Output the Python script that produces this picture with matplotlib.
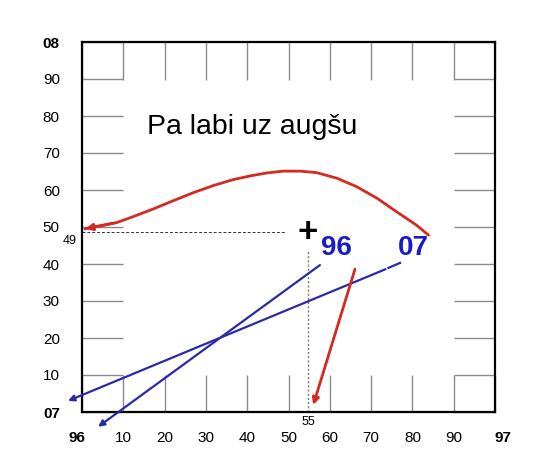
import matplotlib
matplotlib.use("Agg")
import matplotlib.pyplot as plt
from matplotlib.transforms import ScaledTranslation

plt.rcParams['font.family'] = ['Liberation Sans', 'DejaVu Sans']

# ---- data ----
x_ticks = [0, 10, 20, 30, 40, 50, 60, 70, 80, 90, 100]
x_tick_labels = ['96', '10', '20', '30', '40', '50', '60', '70', '80', '90', '97']
y_ticks = [0, 10, 20, 30, 40, 50, 60, 70, 80, 90, 100]
y_tick_labels = ['07', '10', '20', '30', '40', '50', '60', '70', '80', '90', '08']

curve_x = [0.7, 8.4, 12.4, 17.3, 22.1, 27.0, 31.8, 36.6, 40.7, 44.7, 48.7,
           52.8, 56.8, 61.7, 66.5, 71.4, 76.2, 81.0, 83.9]
curve_y = [49.5, 51.2, 52.8, 54.9, 57.1, 59.3, 61.2, 62.8, 63.8, 64.6, 65.1,
           65.1, 64.7, 63.2, 60.9, 57.8, 54.1, 50.5, 47.8]

point_x, point_y = 54.7, 48.6
point_label_x, point_label_y = '55', '49'

blue_a_start = (57.6, 39.7)
blue_a_end = (3.9, -4.0)
blue_b_start = (77.0, 40.3)
blue_b_end = (-3.4, 3.0)
red_arrow_start = (66.1, 38.6)
red_arrow_end = (56.0, 1.9)

title_text = 'Pa labi uz augšu'
label_96 = '96'
label_07 = '07'

red = '#d42a22'
navy = '#2a2aa6'
blue_txt = '#1a1ac8'

# ---- figure ----
fig = plt.figure(figsize=(5.49, 4.57), dpi=100)
ax = fig.add_axes([82/549, 45/457, 413/549, 370/457])
ax.set_xlim(0, 100)
ax.set_ylim(0, 100)

for s in ax.spines.values():
    s.set_linewidth(1.6)
    s.set_color('black')

ax.set_xticks(x_ticks)
ax.set_xticklabels(x_tick_labels)
ax.set_yticks(y_ticks)
ax.set_yticklabels(y_tick_labels)
ax.tick_params(axis='x', direction='in', length=27, width=1.0, color='#8a8a8a',
               top=True, bottom=True, labelsize=11, pad=14)
ax.tick_params(axis='y', direction='in', length=29.5, width=1.0, color='#8a8a8a',
               left=True, right=True, labelsize=11, pad=16)
xl = ax.get_xticklabels()
yl = ax.get_yticklabels()
for lbl in [xl[0], xl[-1], yl[0], yl[-1]]:
    lbl.set_fontweight('bold')
xl[0].set_transform(xl[0].get_transform() + ScaledTranslation(-0.05, 0, fig.dpi_scale_trans))
xl[-1].set_transform(xl[-1].get_transform() + ScaledTranslation(0.08, 0, fig.dpi_scale_trans))

# red curve
ax.plot(curve_x, curve_y, color=red, lw=2.0, clip_on=False,
        solid_capstyle='round', solid_joinstyle='round')
ax.annotate('', xy=(curve_x[0] - 0.5, curve_y[0] - 0.1), xytext=(curve_x[1], curve_y[1]),
            arrowprops=dict(arrowstyle='-|>', color=red, lw=2.0, mutation_scale=10),
            annotation_clip=False)

# guide lines
ax.plot([0, point_x - 5.5], [point_y, point_y], ls=(0, (3, 2)), color='#333333', lw=0.7)
ax.plot([point_x, point_x], [0, point_y - 4.8], ls=(0, (1.5, 1.5)), color='#777777', lw=1.0)
ax.text(point_x, point_y, '+', fontsize=25, fontweight='bold', ha='center', va='center')
ax.text(-3, point_y - 2.5, point_label_y, fontsize=9, ha='center', va='center', clip_on=False)
ax.text(point_x, -2.7, point_label_x, fontsize=9, ha='center', va='center', clip_on=False)

# blue lines
ax.annotate('', xy=blue_a_end, xytext=blue_a_start,
            arrowprops=dict(arrowstyle='-|>', color=navy, lw=1.6, mutation_scale=9,
                            shrinkA=0, shrinkB=0), annotation_clip=False)
ax.annotate('', xy=blue_b_end, xytext=(73.5, 38.6),
            arrowprops=dict(arrowstyle='-|>', color=navy, lw=1.6, mutation_scale=9,
                            shrinkA=0, shrinkB=0), annotation_clip=False)
ax.plot([blue_b_start[0], 74.2], [blue_b_start[1], 38.95], color=navy, lw=1.6)

# red arrow
ax.annotate('', xy=red_arrow_end, xytext=red_arrow_start,
            arrowprops=dict(arrowstyle='-|>', color=red, lw=2.0, mutation_scale=10,
                            shrinkA=0, shrinkB=0), annotation_clip=False)

ax.text(61.7, 44.2, label_96, fontsize=20, fontweight='bold', color=blue_txt,
        ha='center', va='center')
ax.text(80.2, 44.4, label_07, fontsize=20, fontweight='bold', color=blue_txt,
        ha='center', va='center')

ax.text(41.3, 77.0, title_text, fontsize=20.5, ha='center', va='center')

fig.savefig('out.png', dpi=100)
